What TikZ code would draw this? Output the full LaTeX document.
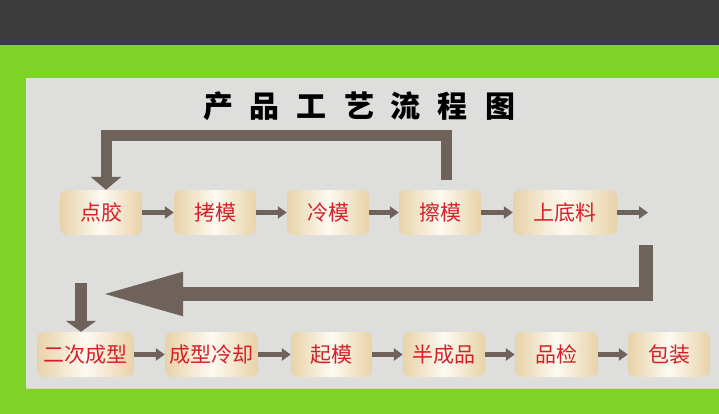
\documentclass[tikz,border=0pt]{standalone}
\usepackage{fontspec}
\newfontfamily\cjk{Noto Sans CJK SC}
\usetikzlibrary{arrows.meta}
\definecolor{darkband}{RGB}{60,60,60}
\definecolor{greenbg}{RGB}{126,211,39}
\definecolor{panel}{RGB}{222,222,220}
\definecolor{arrowc}{RGB}{110,98,90}
\definecolor{tan}{RGB}{232,210,168}
\definecolor{cream}{RGB}{253,250,242}
\definecolor{txtred}{RGB}{214,32,40}
\tikzset{
  box/.style={rounded corners=7pt, left color=tan, right color=tan, middle color=cream,
    minimum height=45pt, inner sep=0pt, font=\cjk\fontsize{21}{21}\selectfont, text=txtred},
  thinarrow/.style={draw=arrowc, line width=4.5pt, -{Triangle[length=9pt,width=12pt]}},
  loopline/.style={draw=arrowc, line width=11pt, -{Triangle[length=13pt,width=30pt]}},
  bigline/.style={draw=arrowc, line width=14pt, -{Triangle[length=82pt,width=40pt]}},
  downarrow/.style={draw=arrowc, line width=12pt, -{Triangle[length=11pt,width=30pt]}},
}
\begin{document}
\begin{tikzpicture}[x=1pt,y=-1pt]
\useasboundingbox (0,0) rectangle (719,414);
\fill[greenbg] (0,0) rectangle (719,414);
\fill[darkband] (0,0) rectangle (719,45);
\fill[panel] (26,78) rectangle (719,388);
\draw[tan, line width=1pt] (26,388) -- (719,388);

\node[font=\cjk\bfseries\fontsize{30}{30}\selectfont] (title) at (359,106)
  {产\hspace{17pt}品\hspace{17pt}工\hspace{17pt}艺\hspace{17pt}流\hspace{17pt}程\hspace{17pt}图};

% row 1
\node[box, minimum width=82pt] (n1) at (101,212.5) {点胶};
\node[box, minimum width=82pt] (n2) at (215,212.5) {拷模};
\node[box, minimum width=82pt] (n3) at (328,212.5) {冷模};
\node[box, minimum width=82pt] (n4) at (440,212.5) {擦模};
\node[box, minimum width=104pt] (n5) at (565,212.5) {上底料};
\coordinate (e5) at (648,212.5);

% row 2
\node[box, minimum width=97pt] (n7) at (85.5,354.5) {二次成型};
\node[box, minimum width=93pt] (n8) at (211.5,354.5) {成型冷却};
\node[box, minimum width=81pt] (n9) at (331.5,354.5) {起模};
\node[box, minimum width=82pt] (n10) at (444,354.5) {半成品};
\node[box, minimum width=83pt] (n11) at (556.5,354.5) {品检};
\node[box, minimum width=82pt] (n12) at (669,354.5) {包装};

% thin arrows
\draw[thinarrow] (n1) -- (n2);
\draw[thinarrow] (n2) -- (n3);
\draw[thinarrow] (n3) -- (n4);
\draw[thinarrow] (n4) -- (n5);
\draw[thinarrow] (n5) -- (e5);
\draw[thinarrow] (n7) -- (n8);
\draw[thinarrow] (n8) -- (n9);
\draw[thinarrow] (n9) -- (n10);
\draw[thinarrow] (n10) -- (n11);
\draw[thinarrow] (n11) -- (n12);

% loop back arrow
\coordinate (ls) at (446,180);
\coordinate (lc) at (106,136);
\draw[loopline] (ls) |- (lc) -- (lc |- n1.north);

% big return arrow
\coordinate (bs) at (646,245);
\coordinate (bc) at (646,294);
\coordinate (bt) at (101,294);
\draw[bigline] (bs) -- (bc) -- (bt);

% down arrow
\coordinate (ds) at (81,283);
\draw[downarrow] (ds) -- (ds |- n7.north);
\end{tikzpicture}
\end{document}
